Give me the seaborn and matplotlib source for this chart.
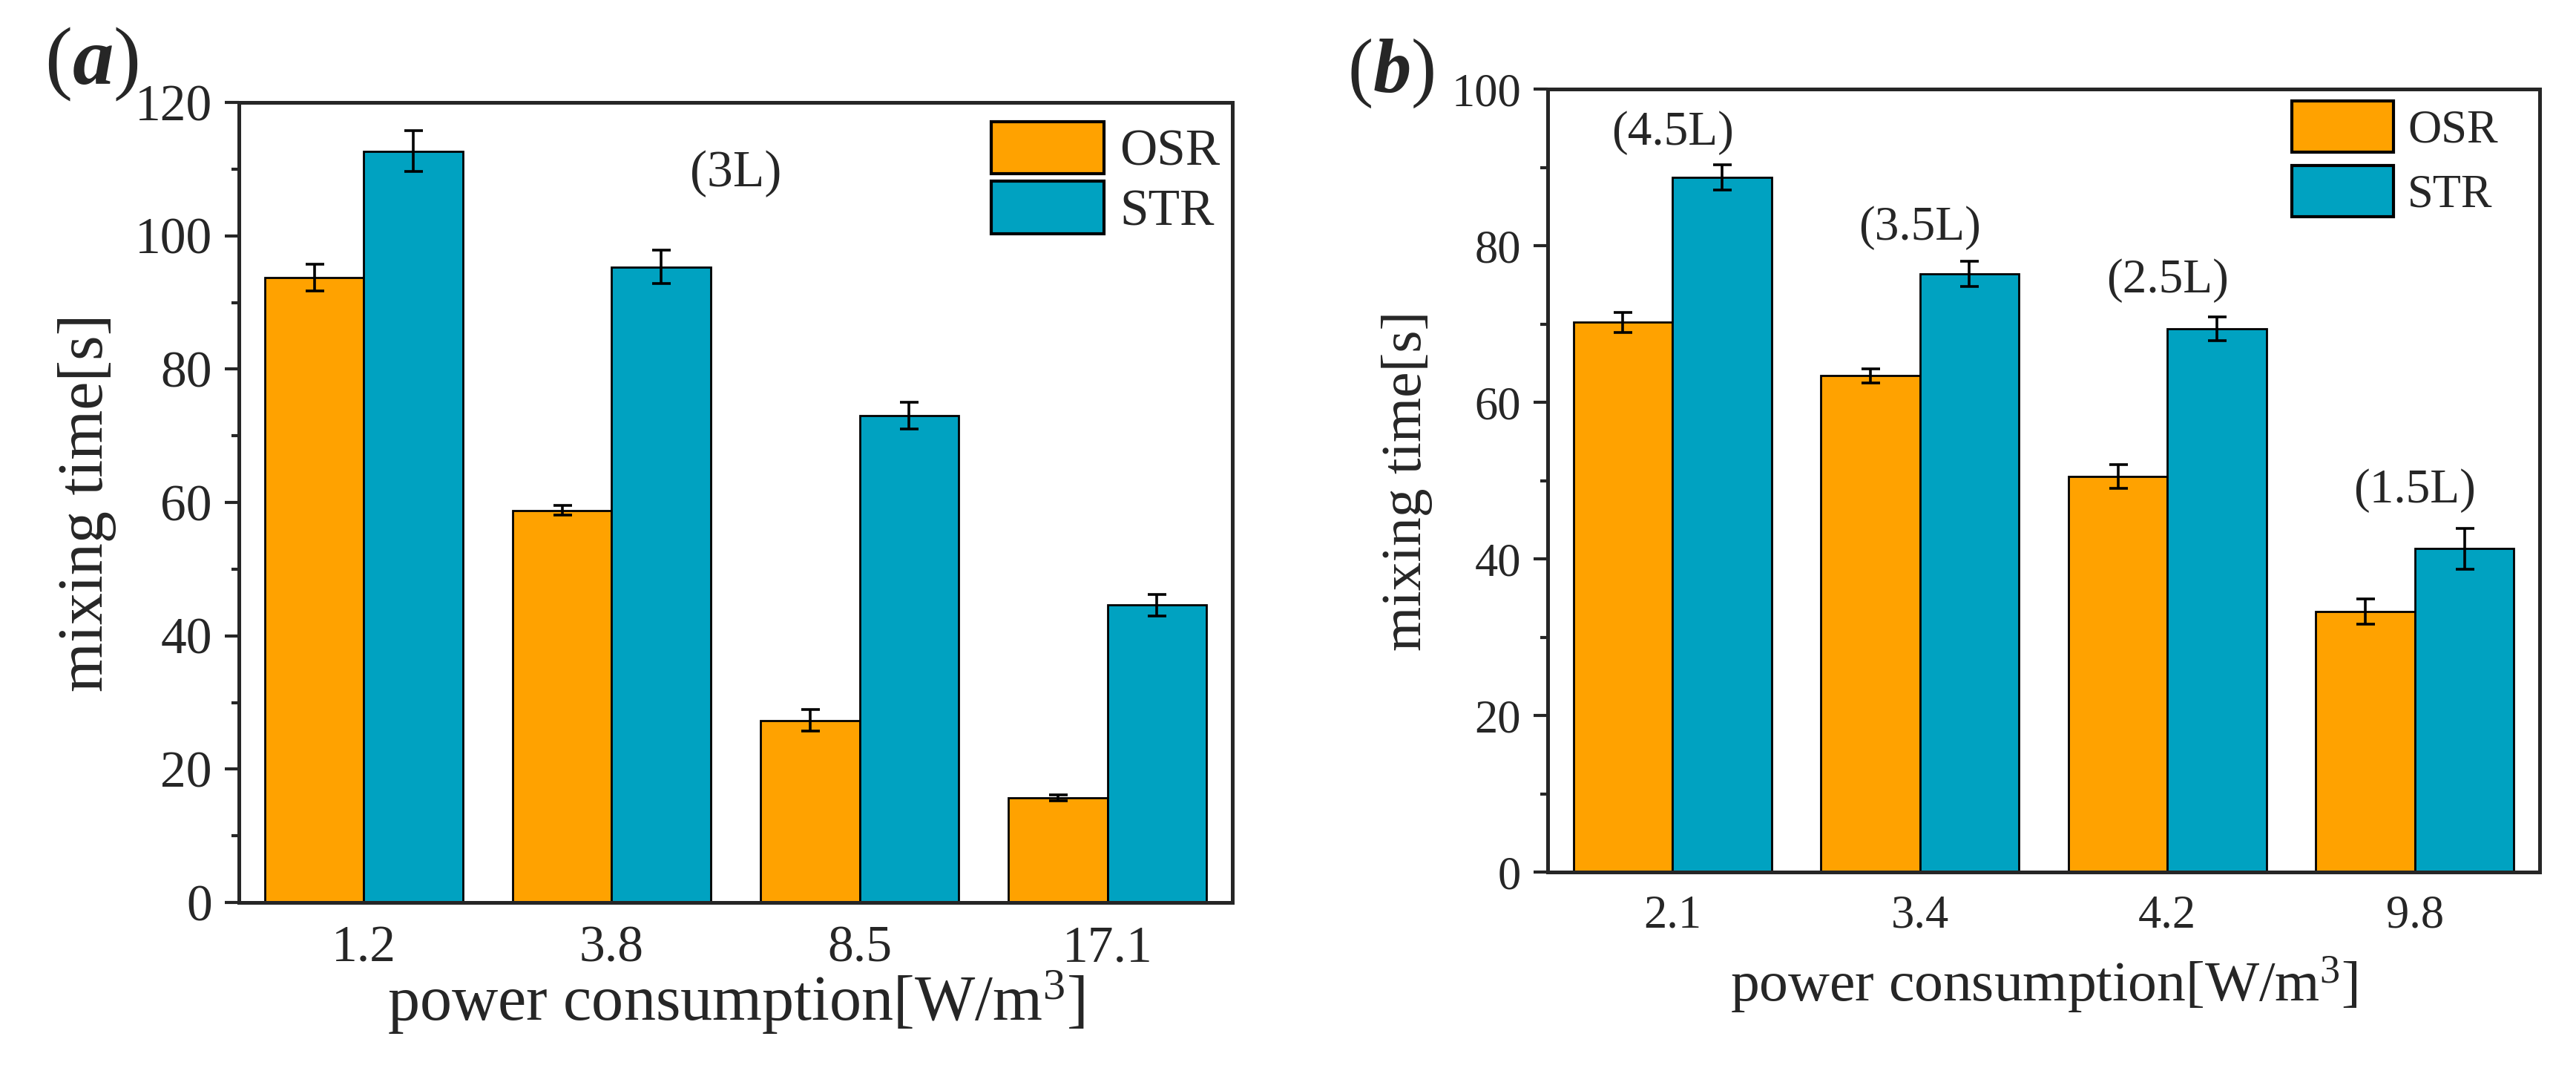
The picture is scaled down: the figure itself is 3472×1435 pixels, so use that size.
import pandas as pd
import seaborn as sns
import matplotlib.pyplot as plt
from matplotlib.ticker import MultipleLocator

# Data
reactors = ["OSR", "STR"]
colors = ["#FFA200", "#00A2C1"]

a_power = ["1.2", "3.8", "8.5", "17.1"]
a_osr = [93.7, 58.8, 27.3, 15.7]
a_str = [112.7, 95.3, 73.0, 44.6]
a_osr_err = [2.0, 0.7, 1.6, 0.4]
a_str_err = [3.1, 2.5, 2.0, 1.6]

b_power = ["2.1", "3.4", "4.2", "9.8"]
b_osr = [70.2, 63.4, 50.5, 33.3]
b_str = [88.7, 76.4, 69.4, 41.3]
b_osr_err = [1.3, 0.9, 1.5, 1.6]
b_str_err = [1.6, 1.6, 1.5, 2.6]
b_volumes = ["(4.5L)", "(3.5L)", "(2.5L)", "(1.5L)"]
b_volume_y = [94.4, 82.3, 75.5, 48.7]

sns.set_theme(style="ticks")
plt.rcParams["font.family"] = ["Liberation Serif", "DejaVu Serif"]
plt.rcParams["mathtext.fontset"] = "custom"
plt.rcParams["mathtext.rm"] = "Liberation Serif"
plt.rcParams["mathtext.it"] = "Liberation Serif:italic"
plt.rcParams["mathtext.bf"] = "Liberation Serif:italic:bold"

W, H = 3472, 1435
fig = plt.figure(figsize=(W / 200, H / 200), dpi=200)
ax_a = fig.add_axes([322 / W, 1 - 1216 / H, 1339 / W, 1078 / H])
ax_b = fig.add_axes([2086 / W, 1 - 1175 / H, 1337 / W, 1055 / H])


def draw_panel(ax, power, osr, strv, osr_err, str_err, ymax, fs, xpad,
               leg_anchor, hh, ls):
    df = pd.DataFrame({
        "power": power * 2,
        "time": osr + strv,
        "err": osr_err + str_err,
        "reactor": ["OSR"] * len(power) + ["STR"] * len(power),
    })
    sns.barplot(data=df, x="power", y="time", hue="reactor", order=power,
                hue_order=reactors, palette=colors, edgecolor="black",
                linewidth=1.0, errorbar=None, width=0.8, legend=False,
                saturation=1, ax=ax)
    bars = list(ax.containers)
    for cont, name in zip(bars, reactors):
        sub = df[df["reactor"] == name]
        xs = [p.get_x() + p.get_width() / 2 for p in cont.patches]
        ax.errorbar(xs, sub["time"], yerr=sub["err"], fmt="none",
                    ecolor="black", elinewidth=1.3, capsize=4.5, capthick=1.3)

    ax.set_xlim(-0.504, 3.504)
    ax.set_ylim(0, ymax)
    ax.yaxis.set_major_locator(MultipleLocator(20))
    ax.yaxis.set_minor_locator(MultipleLocator(10))
    ax.tick_params(axis="y", which="major", length=7, width=1.5,
                   labelsize=fs, pad=6)
    ax.tick_params(axis="y", which="minor", length=3.5, width=1.5)
    ax.tick_params(axis="x", length=0, labelsize=fs, pad=11)
    for s in ax.spines.values():
        s.set_linewidth(1.8)
        s.set_visible(True)

    ax.set_xlabel("power consumption[W/m$^3$]", fontsize=fs * 1.24,
                  labelpad=xpad)
    ax.set_ylabel("mixing time[s]", fontsize=fs * 1.24, labelpad=9)

    leg = ax.legend([c.patches[0] for c in bars], reactors, loc="upper left",
                    bbox_to_anchor=leg_anchor, frameon=False, fontsize=fs,
                    handlelength=2.2, handleheight=hh, labelspacing=ls,
                    handletextpad=0.3, borderpad=0, borderaxespad=0)
    for h in leg.legend_handles:
        h.set_linewidth(1.5)


draw_panel(ax_a, a_power, a_osr, a_str, a_osr_err, a_str_err, 120, 25, -2,
           (0.757, 0.976), 1.18, 0.1)
ax_a.text(1.5, 109.3, "(3L)", fontsize=25, ha="center", va="center")

draw_panel(ax_b, b_power, b_osr, b_str, b_osr_err, b_str_err, 100, 22.5, 8,
           (0.75, 0.985), 1.32, 0.28)
for i, (lab, y) in enumerate(zip(b_volumes, b_volume_y)):
    ax_b.text(i, y, lab, fontsize=23.5, ha="center", va="center")

fig.text(60 / W, 1 - 113 / H, r"($\mathbf{a}$)", fontsize=40, va="baseline")
fig.text(1816 / W, 1 - 124 / H, r"($\mathbf{b}$)", fontsize=37, va="baseline")

fig.savefig("out.png", dpi=200)
